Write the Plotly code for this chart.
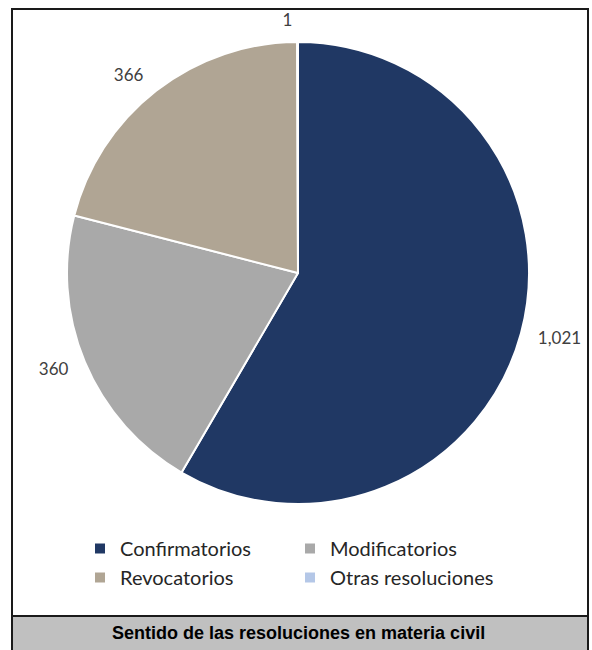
import plotly.graph_objects as go

# Data
categories = ["Confirmatorios", "Modificatorios", "Revocatorios", "Otras resoluciones"]
values = [1021, 360, 366, 1]
colors = ["#203864", "#a9a9a9", "#b0a594", "#b4c7e7"]
title_text = "Sentido de las resoluciones en materia civil"

W, H = 592, 650


def xp(px):
    return px / W


def yp(py):
    return (H - py) / H


cx, cy, r = 298, 273, 231
r_lab = r + 12  # radius of the transparent label ring

fig = go.Figure()
fig.add_trace(go.Pie(
    labels=categories,
    values=values,
    sort=False,
    direction="clockwise",
    rotation=0,
    marker=dict(colors=colors, line=dict(color="white", width=2)),
    textinfo="none",
    domain=dict(x=[xp(cx - r), xp(cx + r)], y=[yp(cy + r), yp(cy - r)]),
    hoverinfo="label+value",
))
# same data, transparent, slightly larger: carries the outside value labels
fig.add_trace(go.Pie(
    labels=categories,
    values=values,
    sort=False,
    direction="clockwise",
    rotation=0,
    showlegend=False,
    marker=dict(colors=["rgba(0,0,0,0)"] * len(values), line=dict(width=0)),
    textposition="outside",
    texttemplate="%{value:,}",
    textfont=dict(family="Lato", size=17, color="#404040"),
    domain=dict(x=[xp(cx - r_lab), xp(cx + r_lab)], y=[yp(cy + r_lab), yp(cy - r_lab)]),
    hoverinfo="skip",
))

shapes = [
    dict(type="rect", xref="paper", yref="paper",
         x0=xp(12), x1=xp(588), y0=yp(652), y1=yp(616),
         fillcolor="#c0c0c0", line=dict(width=0), layer="below"),
    dict(type="rect", xref="paper", yref="paper",
         x0=xp(12), x1=xp(588), y0=yp(652), y1=yp(9),
         line=dict(color="#1a1a1a", width=2)),
    dict(type="line", xref="paper", yref="paper",
         x0=xp(12), x1=xp(588), y0=yp(616), y1=yp(616),
         line=dict(color="#1a1a1a", width=2)),
]

fig.update_layout(
    width=W, height=H,
    margin=dict(l=0, r=0, t=0, b=0),
    paper_bgcolor="white",
    plot_bgcolor="white",
    shapes=shapes,
    showlegend=True,
    legend=dict(
        orientation="h",
        x=xp(80), xanchor="left",
        y=yp(529), yanchor="top",
        entrywidth=165,
        font=dict(family="Lato", size=20, color="#262626"),
        traceorder="normal",
        bgcolor="rgba(0,0,0,0)",
    ),
    annotations=[dict(
        text="<b>" + title_text + "</b>",
        xref="paper", yref="paper",
        x=xp(298), y=yp(633), xanchor="center", yanchor="middle",
        showarrow=False,
        font=dict(family="Liberation Sans", size=18, color="#000000"),
    )],
)

fig.write_html("out.html", config={"displayModeBar": False},
               post_script="document.body.style.margin='0';")
